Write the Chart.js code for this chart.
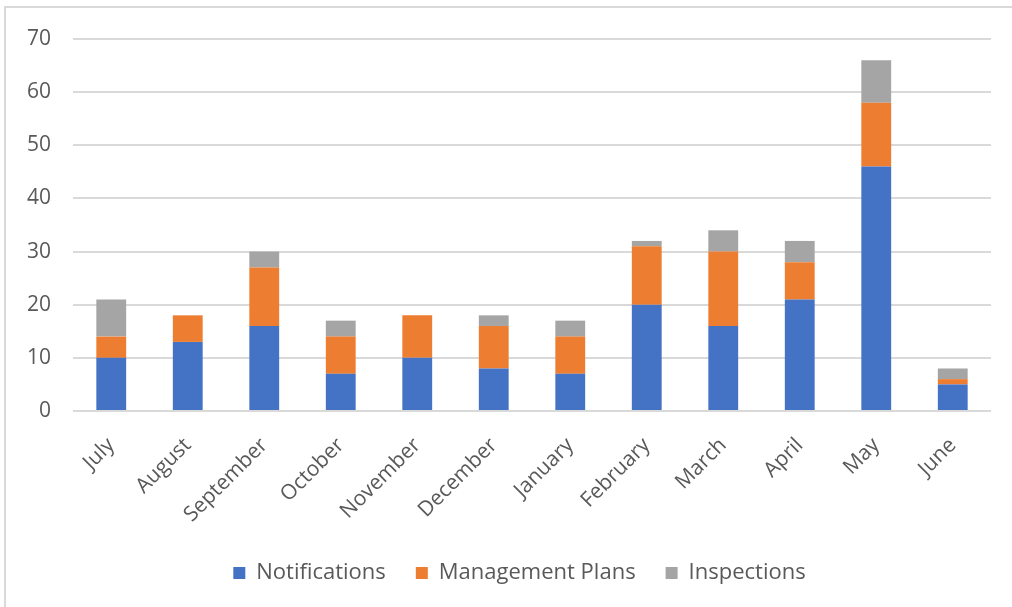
<!DOCTYPE html>
<html>
<head>
  <meta charset="UTF-8">
  <title>Monthly Activity</title>
  <script src="https://cdn.jsdelivr.net/npm/chart.js@4.4.0/dist/chart.umd.min.js"></script>
  <style>
    body { margin: 0; padding: 0; background: #fff; }
    #wrap { width: 1012px; height: 607px; position: relative; }
  </style>
</head>
<body>
  <div id="wrap"><canvas id="chart" width="1012" height="607"></canvas></div>
  <script>
    const months = ['July', 'August', 'September', 'October', 'November', 'December',
                    'January', 'February', 'March', 'April', 'May', 'June'];
    const notifications   = [10, 13, 16, 7, 10, 8, 7, 20, 16, 21, 46, 5];
    const managementPlans = [4, 5, 11, 7, 8, 8, 7, 11, 14, 7, 12, 1];
    const inspections     = [7, 0, 3, 3, 0, 2, 3, 1, 4, 4, 8, 2];
    const yTicks = [0, 10, 20, 30, 40, 50, 60, 70];

    const textColor = '#595959';
    const gridColor = '#d9d9d9';

    // outer frame like the Excel chart area
    const framePlugin = {
      id: 'frame',
      beforeDraw(chart) {
        const ctx = chart.ctx;
        ctx.save();
        ctx.fillStyle = '#fff';
        ctx.fillRect(0, 0, chart.width, chart.height);
        ctx.strokeStyle = gridColor;
        ctx.lineWidth = 2;
        ctx.strokeRect(5, 7, 1020, 640);
        ctx.restore();
      }
    };

    // legend keeps wide spacing between items but a fixed height,
    // and sits a bit lower / more to the right like the original
    const legendPlace = {
      id: 'legendPlace',
      beforeLayout(chart) {
        const lg = chart.legend;
        if (lg && !lg._fixed) {
          const fit = lg.fit.bind(lg);
          lg.fit = function () { fit(); this.height = 85; };
          lg._fixed = true;
        }
      },
      afterLayout(chart) {
        const lg = chart.legend;
        if (!lg) return;
        lg.left += 24; lg.right += 24;
        lg.top += 10; lg.bottom += 10;
        if (lg.adjustHitBoxes) lg.adjustHitBoxes();
      }
    };

    const ds = (label, data, color) => ({
      label, data, backgroundColor: color, borderWidth: 0,
      barPercentage: 0.39, categoryPercentage: 1
    });

    new Chart(document.getElementById('chart'), {
      type: 'bar',
      data: {
        labels: months,
        datasets: [
          ds('Notifications', notifications, '#4472c4'),
          ds('Management Plans', managementPlans, '#ed7d31'),
          ds('Inspections', inspections, '#a5a5a5')
        ]
      },
      options: {
        responsive: false,
        animation: false,
        layout: { padding: { top: 39, right: 21, bottom: 0, left: 0 } },
        plugins: {
          tooltip: { enabled: false },
          legend: {
            position: 'bottom',
            labels: {
              boxWidth: 12, boxHeight: 12, padding: 30,
              color: textColor,
              font: { family: 'Open Sans', size: 22 }
            }
          }
        },
        scales: {
          x: {
            stacked: true,
            grid: { display: false },
            border: { display: false },
            ticks: {
              color: textColor, minRotation: 45, maxRotation: 45, padding: 14,
              font: { family: 'Open Sans', size: 21 }
            },
            afterFit(scale) { scale.height = 111; }
          },
          y: {
            stacked: true,
            min: 0, max: 70,
            afterBuildTicks(scale) { scale.ticks = yTicks.map(v => ({ value: v })); },
            grid: { color: gridColor, lineWidth: 2, drawTicks: false },
            border: { display: false },
            ticks: {
              color: textColor, padding: 22,
              font: { family: 'Open Sans', size: 21 }
            },
            afterFit(scale) { scale.width = 73; }
          }
        }
      },
      plugins: [framePlugin, legendPlace]
    });
  </script>
</body>
</html>
